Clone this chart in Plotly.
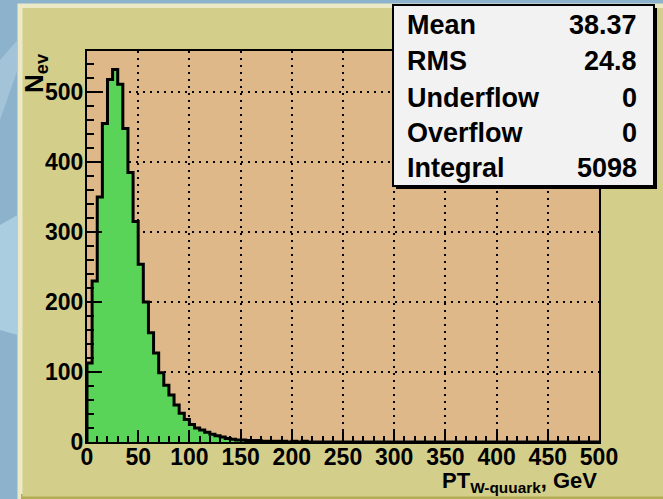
import plotly.graph_objects as go

# ---- histogram data: PT of the W quark, 5 GeV bins from 0 to 500 GeV ----
bin_width = 5
n_bins = 100
counts_head = [113, 230, 350, 455, 518, 532, 511, 448, 385, 315,
               254, 200, 156, 127, 99, 81, 67, 53, 41, 32,
               25, 20, 17, 14, 11, 9, 7, 5, 4, 3,
               3, 2, 2, 2, 1, 1, 1, 1, 1, 0,
               1, 0, 1]
counts = counts_head + [0] * (n_bins - len(counts_head))
edges = [i * bin_width for i in range(n_bins + 1)]

# ---- statistics box ----
stat_names = ["Mean", "RMS", "Underflow", "Overflow", "Integral"]
stat_values = ["38.37", "24.8", "0", "0", "5098"]

x_ticks = [0, 50, 100, 150, 200, 250, 300, 350, 400, 450, 500]
y_ticks = [0, 100, 200, 300, 400, 500]

# ---- page geometry (pixels) ----
W, H = 663, 499
L, R, T, B = 87, 599, 51, 442
Y_MAX = (B - T) / 0.7


def fx(p):
    return (p - L) / (R - L)


def fy(p):
    return (B - p) / (B - T)


FONT = "Liberation Sans, Arial, sans-serif"
PAD = "#d3cf8b"
FRAME_BG = "#dfb889"
GREEN = "#59d459"

# step outline of the histogram
step_x = [edges[0]] + edges[:-1] + [edges[-1]]
step_y = [0] + counts + [counts[-1]]

fig = go.Figure()
fig.add_trace(go.Scatter(
    x=step_x, y=step_y, mode="lines", line_shape="hv",
    line=dict(color="black", width=3),
    fill="tozeroy", fillcolor=GREEN, hoverinfo="skip", showlegend=False,
))

shapes = []
# canvas pad with bevelled edges
shapes.append(dict(type="rect", xref="paper", yref="paper", layer="below",
                   x0=fx(17.5), x1=fx(670), y0=fy(3.5), y1=fy(499),
                   fillcolor="#ebe9c6", line=dict(width=0)))
shapes.append(dict(type="rect", xref="paper", yref="paper", layer="below",
                   x0=fx(21), x1=fx(670), y0=fy(494), y1=fy(499),
                   fillcolor="#b3ad55", line=dict(width=0)))
shapes.append(dict(type="rect", xref="paper", yref="paper", layer="below",
                   x0=fx(22.5), x1=fx(670), y0=fy(8), y1=fy(496.5),
                   fillcolor=PAD, line=dict(width=0)))
# light swooshes on the blue backdrop
shapes.append(dict(type="path", xref="paper", yref="paper", layer="below",
                   path=f"M {fx(0)} {fy(225)} L {fx(17.5)} {fy(215)} L {fx(17.5)} {fy(335)} L {fx(0)} {fy(330)} Z",
                   fillcolor="#abcde0", line=dict(width=0)))
shapes.append(dict(type="path", xref="paper", yref="paper", layer="below",
                   path=f"M {fx(0)} {fy(60)} L {fx(17.5)} {fy(40)} L {fx(17.5)} {fy(70)} L {fx(0)} {fy(120)} Z",
                   fillcolor="#a2c3d8", line=dict(width=0)))
# frame background
shapes.append(dict(type="rect", xref="paper", yref="paper", layer="below",
                   x0=0, x1=1, y0=0, y1=1,
                   fillcolor=FRAME_BG, line=dict(width=0)))
# statistics box with shadow
shapes.append(dict(type="rect", xref="paper", yref="paper", layer="above",
                   x0=fx(396), x1=fx(657), y0=fy(189), y1=fy(8),
                   fillcolor="black", line=dict(width=0)))
shapes.append(dict(type="rect", xref="paper", yref="paper", layer="above",
                   x0=fx(393), x1=fx(654), y0=fy(186), y1=fy(5),
                   fillcolor="#f2f2f2", line=dict(color="black", width=2)))

annotations = []
row_centres = [25.3, 61, 97.7, 132.7, 167.7]
for name, val, yc in zip(stat_names, stat_values, row_centres):
    annotations.append(dict(xref="paper", yref="paper", x=fx(405), y=fy(yc),
                            xanchor="left", yanchor="middle", showarrow=False,
                            text=name, font=dict(family=FONT, size=27, color="black", weight="bold")))
    annotations.append(dict(xref="paper", yref="paper", x=fx(639), y=fy(yc),
                            xanchor="right", yanchor="middle", showarrow=False,
                            text=val, font=dict(family=FONT, size=27, color="black", weight="bold")))

# axis titles
annotations.append(dict(xref="paper", yref="paper", x=fx(35), y=fy(51),
                        xanchor="center", yanchor="top", showarrow=False, textangle=-90,
                        text="N<sub>ev</sub>",
                        font=dict(family=FONT, size=26, color="black", weight="bold")))
annotations.append(dict(xref="paper", yref="paper", x=fx(599), y=fy(498),
                        xanchor="right", yanchor="bottom", showarrow=False,
                        text="PT<sub>W-quuark</sub>, GeV",
                        font=dict(family=FONT, size=22, color="black", weight="bold")))

tick_font = dict(family=FONT, size=23, color="black", weight="bold")
grid_dash = "2px,5px"

fig.update_xaxes(
    range=[0, 500], tickvals=x_ticks, ticktext=[str(v) for v in x_ticks],
    ticks="inside", ticklen=12, tickwidth=2, tickcolor="black",
    minor=dict(dtick=10, ticks="inside", ticklen=6, tickwidth=2, tickcolor="black", showgrid=False),
    showline=True, linecolor="black", linewidth=2, mirror=True,
    showgrid=True, gridcolor="black", gridwidth=2, griddash=grid_dash,
    zeroline=False, tickfont=tick_font, ticklabelstandoff=-7,
)
fig.update_yaxes(
    range=[0, Y_MAX], tickvals=y_ticks, ticktext=[str(v) for v in y_ticks],
    ticks="inside", ticklen=15, tickwidth=2, tickcolor="black",
    minor=dict(dtick=20, ticks="inside", ticklen=7, tickwidth=2, tickcolor="black", showgrid=False),
    showline=True, linecolor="black", linewidth=2, mirror=True,
    showgrid=True, gridcolor="black", gridwidth=2, griddash=grid_dash,
    zeroline=False, tickfont=tick_font, ticklabelstandoff=-3,
)

fig.update_layout(
    width=W, height=H, autosize=False,
    margin=dict(l=L, r=W - R, t=T, b=H - B, pad=0),
    paper_bgcolor="#8db2cb", plot_bgcolor="rgba(0,0,0,0)",
    shapes=shapes, annotations=annotations, showlegend=False,
)

fig.write_html("out.html")
